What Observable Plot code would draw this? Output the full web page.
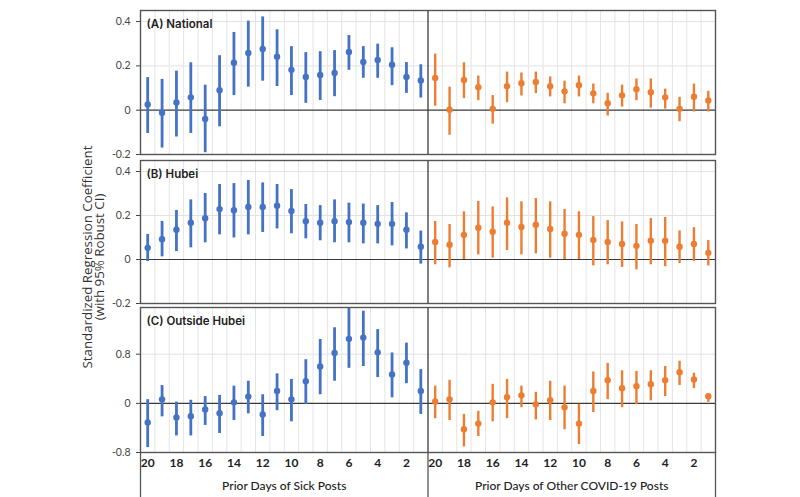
<!DOCTYPE html>
<html>
<head>
<meta charset="utf-8">
<script src="https://cdn.jsdelivr.net/npm/d3@7"></script>
<script src="https://cdn.jsdelivr.net/npm/@observablehq/plot@0.6"></script>
<style>
  html, body { margin: 0; padding: 0; background: #fff; }
  #chart { position: relative; width: 800px; height: 497px; overflow: hidden; background: #fff; }
  #chart > svg { position: absolute; left: 0; }
</style>
</head>
<body>
<div id="chart"></div>
<script>
// ---- data (days before, 20 .. 1) ----
const days = [20,19,18,17,16,15,14,13,12,11,10,9,8,7,6,5,4,3,2,1];
const tickDays = [20,18,16,14,12,10,8,6,4,2];

// (A) National
const natSickEst = [0.026,-0.011,0.035,0.058,-0.040,0.090,0.214,0.258,0.276,0.241,0.182,0.150,0.159,0.168,0.263,0.218,0.227,0.205,0.150,0.134];
const natSickLo  = [-0.105,-0.171,-0.121,-0.105,-0.192,-0.075,0.066,0.104,0.131,0.107,0.066,0.031,0.044,0.061,0.180,0.144,0.144,0.111,0.076,0.055];
const natSickHi  = [0.147,0.139,0.176,0.214,0.113,0.246,0.351,0.402,0.421,0.363,0.287,0.260,0.264,0.269,0.337,0.287,0.298,0.282,0.215,0.205];
const natOthEst  = [0.145,0.002,0.136,0.104,0.006,0.108,0.122,0.127,0.108,0.085,0.113,0.076,0.031,0.067,0.095,0.081,0.058,0.006,0.061,0.044];
const natOthLo   = [0.018,-0.113,0.052,0.043,-0.063,0.034,0.064,0.075,0.060,0.029,0.060,0.029,-0.026,0.014,0.043,0.009,0.005,-0.052,-0.008,-0.008];
const natOthHi   = [0.253,0.104,0.214,0.154,0.066,0.172,0.168,0.172,0.150,0.131,0.154,0.118,0.076,0.113,0.141,0.141,0.095,0.058,0.118,0.085];

// (B) Hubei
const hubSickEst = [0.053,0.092,0.135,0.167,0.188,0.229,0.224,0.239,0.239,0.244,0.221,0.174,0.167,0.174,0.170,0.167,0.162,0.162,0.135,0.058];
const hubSickLo  = [-0.009,0.012,0.036,0.053,0.076,0.112,0.098,0.112,0.123,0.139,0.117,0.094,0.085,0.076,0.076,0.071,0.071,0.062,0.048,-0.021];
const hubSickHi  = [0.114,0.173,0.223,0.271,0.300,0.341,0.345,0.359,0.348,0.341,0.318,0.250,0.245,0.271,0.256,0.252,0.245,0.259,0.212,0.129];
const hubOthEst  = [0.080,0.067,0.112,0.144,0.126,0.167,0.148,0.158,0.139,0.117,0.112,0.089,0.080,0.071,0.062,0.085,0.085,0.058,0.071,0.030];
const hubOthLo   = [-0.024,-0.038,0.000,0.021,0.006,0.041,0.021,0.026,0.006,0.000,0.000,-0.029,-0.024,-0.036,-0.047,-0.024,-0.033,-0.018,-0.009,-0.029];
const hubOthHi   = [0.173,0.159,0.217,0.264,0.239,0.280,0.262,0.277,0.262,0.227,0.217,0.195,0.177,0.171,0.159,0.186,0.191,0.130,0.145,0.086];

// (C) Outside Hubei
const outSickEst = [-0.31,0.065,-0.23,-0.21,-0.10,-0.16,0.016,0.11,-0.18,0.20,0.065,0.36,0.60,0.82,1.05,1.07,0.83,0.47,0.66,0.20];
const outSickLo  = [-0.72,-0.22,-0.53,-0.53,-0.36,-0.49,-0.28,-0.17,-0.54,-0.12,-0.30,-0.02,0.14,0.36,0.57,0.60,0.42,0.09,0.32,-0.18];
const outSickHi  = [0.06,0.29,0.02,0.05,0.11,0.13,0.28,0.36,0.14,0.48,0.39,0.71,1.04,1.23,1.56,1.50,1.20,0.82,0.98,0.55];
const outOthEst  = [0.03,0.065,-0.42,-0.33,0.016,0.10,0.13,-0.016,0.05,-0.065,-0.33,0.20,0.375,0.245,0.28,0.31,0.375,0.505,0.39,0.115];
const outOthLo   = [-0.25,-0.28,-0.71,-0.54,-0.30,-0.25,-0.07,-0.27,-0.28,-0.43,-0.67,-0.15,0.06,-0.07,-0.02,0.04,0.11,0.29,0.24,0.016];
const outOthHi   = [0.28,0.375,-0.18,-0.13,0.31,0.39,0.28,0.18,0.36,0.28,-0.016,0.51,0.65,0.53,0.52,0.53,0.60,0.685,0.49,0.14];

const halves = ["Prior Days of Sick Posts", "Prior Days of Other COVID-19 Posts"];
const blue = "#4472C4", orange = "#ED7D31";

// ---- helpers ----
const pos = (half, day) => (half === 0 ? 0 : days.length) + (days[0] - day) + 0.5;
function rows(est, lo, hi, half) {
  return days.map((d, i) => ({half, day: d, est: est[i], lo: lo[i], hi: hi[i], x: pos(half, d)}));
}
const fmt = v => v === 0 ? "0" : v.toFixed(1);
const boundaries = d3.range(1, 2 * days.length).filter(v => v !== days.length);

const panels = [
  {label: "(A) National", top: 0, mt: 10, h: 144, mb: 6, domain: [-0.2, 0.45], ticks: [-0.2, 0, 0.2, 0.4],
   sick: rows(natSickEst, natSickLo, natSickHi, 0), oth: rows(natOthEst, natOthLo, natOthHi, 1)},
  {label: "(B) Hubei", top: 150, mt: 10, h: 143, mb: 6, domain: [-0.2, 0.45], ticks: [-0.2, 0, 0.2, 0.4],
   sick: rows(hubSickEst, hubSickLo, hubSickHi, 0), oth: rows(hubOthEst, hubOthLo, hubOthHi, 1)},
  {label: "(C) Outside Hubei", top: 297, mt: 10, h: 145, mb: 45, domain: [-0.8, 1.56], ticks: [-0.8, 0, 0.8],
   sick: rows(outSickEst, outSickLo, outSickHi, 0), oth: rows(outOthEst, outOthLo, outOthHi, 1), bottom: true}
];

const chart = document.getElementById("chart");
const labelFont = "Inter, Lato, sans-serif";

panels.forEach(p => {
  const marks = [
    Plot.ruleY(p.ticks.filter(t => t !== 0), {stroke: "#e2e2e2", strokeWidth: 1}),
    Plot.ruleX(boundaries, {stroke: "#e4e4e4", strokeWidth: 1}),
    Plot.ruleY([0], {stroke: "#3a3a3a", strokeWidth: 1.2}),
    Plot.ruleX([days.length], {stroke: "#3a3a3a", strokeWidth: 1.3}),
    Plot.ruleX(p.sick, {x: "x", y1: "lo", y2: "hi", stroke: blue, strokeWidth: 2.8}),
    Plot.ruleX(p.oth, {x: "x", y1: "lo", y2: "hi", stroke: orange, strokeWidth: 2.4}),
    Plot.dot(p.sick, {x: "x", y: "est", r: 3.2, fill: blue}),
    Plot.dot(p.oth, {x: "x", y: "est", r: 3.2, fill: orange}),
    Plot.frame({stroke: "#555", strokeWidth: 1.4}),
    Plot.text([p.label], {frameAnchor: "top-left", dx: 6, dy: 14, lineAnchor: "middle", textAnchor: "start",
      fontSize: 11.5, fontWeight: 600, fill: "#222", fontFamily: labelFont})
  ];
  if (p.bottom) {
    const span = p.domain[1] - p.domain[0];
    const below = p.domain[0] - span * p.mb / p.h;
    marks.push(
      Plot.ruleX([0, days.length, 2 * days.length], {y1: p.domain[0], y2: below, stroke: "#555", strokeWidth: 1.3}),
      Plot.text(tickDays.flatMap(d => [0, 1].map(h => ({x: pos(h, d), t: String(d)}))),
        {x: "x", text: "t", frameAnchor: "bottom", dy: 14.5, fontSize: 12, fontWeight: 700, fill: "#222"}),
      Plot.text(halves.map((t, h) => ({x: h * days.length + days.length / 2, t})),
        {x: "x", text: "t", frameAnchor: "bottom", dy: 37, fontSize: 12, fontWeight: 500, fill: "#222"})
    );
  }
  const svg = Plot.plot({
    width: 800,
    height: p.mt + p.h + p.mb,
    marginTop: p.mt,
    marginBottom: p.mb,
    marginLeft: 140,
    marginRight: 85,
    x: {domain: [0, 2 * days.length], axis: null},
    y: {domain: p.domain, ticks: p.ticks, tickFormat: fmt, tickSize: 4, tickPadding: 6, label: null},
    style: {fontFamily: "Lato, 'Open Sans', sans-serif", fontSize: "10.5px", color: "#444",
            background: "transparent", overflow: "visible"},
    marks
  });
  svg.style.top = p.top + "px";
  chart.appendChild(svg);
});

// y-axis title
const overlay = d3.select(chart).append("svg")
  .attr("width", 800).attr("height", 497)
  .style("position", "absolute").style("left", 0).style("top", 0).style("pointer-events", "none");
const yTitle = ["Standardized Regression Coefficient", "(with 95% Robust CI)"];
overlay.selectAll("text").data(yTitle).join("text")
  .attr("transform", (d, i) => `translate(${86.5 + i * 12},257) rotate(-90)`)
  .attr("text-anchor", "middle")
  .attr("dominant-baseline", "central")
  .style("font-family", "'Open Sans', sans-serif")
  .style("font-size", "13.3px")
  .style("fill", "#333")
  .text(d => d);
</script>
</body>
</html>
